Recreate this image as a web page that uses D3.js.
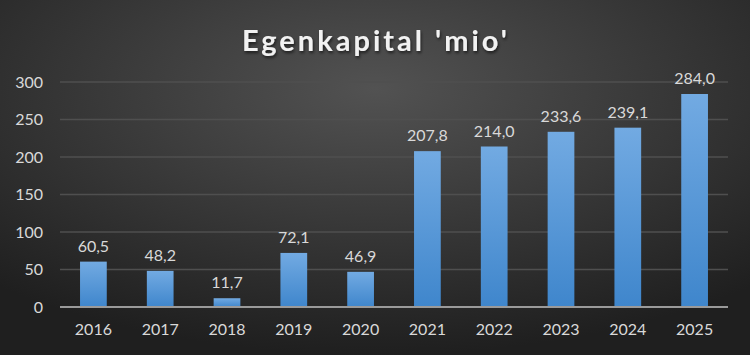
<!DOCTYPE html>
<html>
<head>
<meta charset="utf-8">
<script src="https://cdn.jsdelivr.net/npm/d3@7"></script>
<style>
  html, body { margin: 0; padding: 0; background: #2b2b2b; }
  svg { display: block; }
</style>
</head>
<body>
<svg id="chart"></svg>
<script>
// data
const years = ["2016", "2017", "2018", "2019", "2020", "2021", "2022", "2023", "2024", "2025"];
const values = [60.5, 48.2, 11.7, 72.1, 46.9, 207.8, 214.0, 233.6, 239.1, 284.0];
const yTicks = [0, 50, 100, 150, 200, 250, 300];

const width = 750;
const height = 355;
const margin = { top: 82, right: 22, bottom: 48, left: 60 };
const font = "Lato, 'Open Sans', sans-serif";

const svg = d3.select("#chart")
    .attr("width", width)
    .attr("height", height);

const defs = svg.append("defs");

// background: dark radial glow
const bg = defs.append("radialGradient")
    .attr("id", "bg")
    .attr("cx", "50%").attr("cy", "25%").attr("r", "75%");
bg.append("stop").attr("offset", "0%").attr("stop-color", "#525252");
bg.append("stop").attr("offset", "100%").attr("stop-color", "#1f1f1f");

// bar fill
const barGrad = defs.append("linearGradient")
    .attr("id", "bar")
    .attr("x1", 0).attr("y1", 0).attr("x2", 0).attr("y2", 1);
barGrad.append("stop").attr("offset", "0%").attr("stop-color", "#72aae2");
barGrad.append("stop").attr("offset", "100%").attr("stop-color", "#3f86cc");

const shadow = defs.append("filter").attr("id", "shadow")
    .attr("x", "-10%").attr("y", "-10%").attr("width", "120%").attr("height", "140%");
shadow.append("feDropShadow")
    .attr("dx", 1).attr("dy", 2).attr("stdDeviation", 1.5)
    .attr("flood-color", "#000").attr("flood-opacity", 0.6);

svg.append("rect")
    .attr("width", width).attr("height", height)
    .attr("fill", "url(#bg)");

const x = d3.scaleBand()
    .domain(years)
    .range([margin.left, width - margin.right])
    .paddingInner(0.6)
    .paddingOuter(0.3);

const y = d3.scaleLinear()
    .domain([0, 300])
    .range([height - margin.bottom, margin.top]);

// gridlines
svg.append("g")
    .selectAll("line")
    .data(yTicks.filter(d => d > 0))
    .join("line")
    .attr("x1", margin.left)
    .attr("x2", width - margin.right)
    .attr("y1", d => y(d))
    .attr("y2", d => y(d))
    .attr("stroke", "#4f4f4f")
    .attr("stroke-width", 1.5);

// y axis labels
const yAxis = svg.append("g")
    .attr("transform", `translate(${margin.left},0)`)
    .call(d3.axisLeft(y).tickValues(yTicks).tickSize(0).tickPadding(17));
yAxis.select(".domain").remove();
yAxis.selectAll("text")
    .attr("fill", "#d9d9d9")
    .style("font-family", font)
    .style("font-size", "16px");

// bars
svg.append("g")
    .selectAll("rect")
    .data(values)
    .join("rect")
    .attr("x", (d, i) => x(years[i]))
    .attr("width", x.bandwidth())
    .attr("y", d => y(d))
    .attr("height", d => y(0) - y(d))
    .attr("fill", "url(#bar)");

// value labels
svg.append("g")
    .selectAll("text")
    .data(values)
    .join("text")
    .attr("x", (d, i) => x(years[i]) + x.bandwidth() / 2)
    .attr("y", d => y(d) - 10)
    .attr("text-anchor", "middle")
    .attr("fill", "#d9d9d9")
    .style("font-family", font)
    .style("font-size", "16px")
    .text(d => d3.format(".1f")(d).replace(".", ","));

// baseline
svg.append("line")
    .attr("x1", margin.left)
    .attr("x2", width - margin.right)
    .attr("y1", y(0))
    .attr("y2", y(0))
    .attr("stroke", "#9a9a9a")
    .attr("stroke-width", 2);

// x axis labels
const xAxis = svg.append("g")
    .attr("transform", `translate(0,${y(0)})`)
    .call(d3.axisBottom(x).tickSize(0).tickPadding(17));
xAxis.select(".domain").remove();
xAxis.selectAll("text")
    .attr("fill", "#d9d9d9")
    .style("font-family", font)
    .style("font-size", "16px");

// title
svg.append("text")
    .attr("x", width / 2 + 1)
    .attr("y", 51)
    .attr("text-anchor", "middle")
    .attr("fill", "#f2f2f2")
    .attr("filter", "url(#shadow)")
    .style("font-family", font)
    .style("font-weight", "bold")
    .style("font-size", "29px")
    .style("letter-spacing", "3px")
    .text("Egenkapital 'mio'");
</script>
</body>
</html>
